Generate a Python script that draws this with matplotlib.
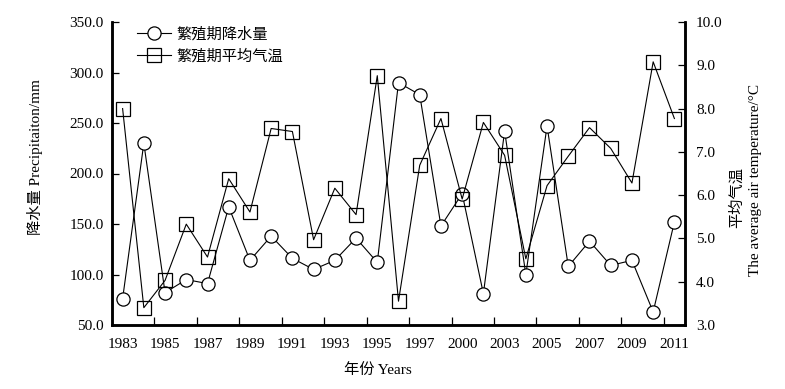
import matplotlib
matplotlib.use('Agg')
import matplotlib.pyplot as plt

plt.rcParams['font.family'] = ['Liberation Serif', 'Noto Sans CJK SC']
plt.rcParams['axes.unicode_minus'] = False

# 27 survey years, labels shown on every second one
years = ['1983', '1984', '1985', '1986', '1987', '1988', '1989', '1990', '1991', '1992',
         '1993', '1994', '1995', '1996', '1997', '1998', '2000', '2002', '2003', '2004',
         '2005', '2006', '2007', '2008', '2009', '2010', '2011']
precip = [76, 230, 82, 95, 91, 167, 114, 138, 116, 105, 114, 136, 112, 290, 278,
          148, 180, 81, 242, 100, 247, 108, 133, 109, 114, 63, 152]
temp = [8.0, 3.4, 4.03, 5.33, 4.57, 6.38, 5.61, 7.54, 7.47, 4.97, 6.16, 5.55, 8.76, 3.55,
        6.69, 7.77, 5.91, 7.68, 6.92, 4.53, 6.22, 6.9, 7.56, 7.08, 6.28, 9.08, 7.77]

x = list(range(len(years)))

fig = plt.figure(figsize=(7.85, 3.89), dpi=100)
ax = fig.add_axes([112 / 785, 64 / 389, 573 / 785, 303 / 389])
ax2 = ax.twinx()

l1, = ax.plot(x, precip, color='black', lw=0.8, marker='o', ms=9.5,
              mfc='white', mec='black', mew=0.9, label='繁殖期降水量')
l2, = ax2.plot(x, temp, color='black', lw=0.8, marker='s', ms=9.5,
               mfc='none', mec='black', mew=0.9, label='繁殖期平均气温')

ax.set_xlim(-0.5, len(years) - 0.5)
ax.set_ylim(50, 350)
ax2.set_ylim(3, 10)
ax.set_yticks(range(50, 351, 50))
ax.set_yticklabels(['%.1f' % v for v in range(50, 351, 50)])
ax2.set_yticks(range(3, 11))
ax2.set_yticklabels(['%.1f' % v for v in range(3, 11)])

# ticks sit between categories, labels on every second category
ax.set_xticks([i + 0.5 for i in range(1, len(years) - 1, 2)])
ax.set_xticklabels([])
for i in range(0, len(years), 2):
    ax.text(i, -0.065, years[i], transform=ax.get_xaxis_transform(),
            ha='center', va='center', fontsize=11)

for a in (ax, ax2):
    a.spines['top'].set_visible(False)
    for s in ('left', 'right', 'bottom'):
        a.spines[s].set_linewidth(1.8)
    a.tick_params(direction='in', length=5, width=0.9, labelsize=11)
ax.tick_params(axis='y', pad=6)
ax2.tick_params(axis='y', pad=8)
ax.tick_params(axis='x', length=6)

ax.legend(handles=[l1, l2], loc='upper left', bbox_to_anchor=(0.02, 1.03),
          frameon=False, fontsize=11, handlelength=2.2, handletextpad=0.4,
          labelspacing=0.5)

fig.text(378 / 785, 1 - 370 / 389, '年份 Years', ha='center', va='center', fontsize=11)
fig.text(35 / 785, 1 - 157 / 389, '降水量 Precipitaiton/mm', rotation=90,
         ha='center', va='center', fontsize=11)
fig.text(737 / 785, 1 - 197 / 389, '平均气温', rotation=90,
         ha='center', va='center', fontsize=11)
fig.text(755 / 785, 1 - 180 / 389, 'The average air temperature/°C', rotation=90,
         ha='center', va='center', fontsize=11)

fig.savefig('out.png', dpi=100)
